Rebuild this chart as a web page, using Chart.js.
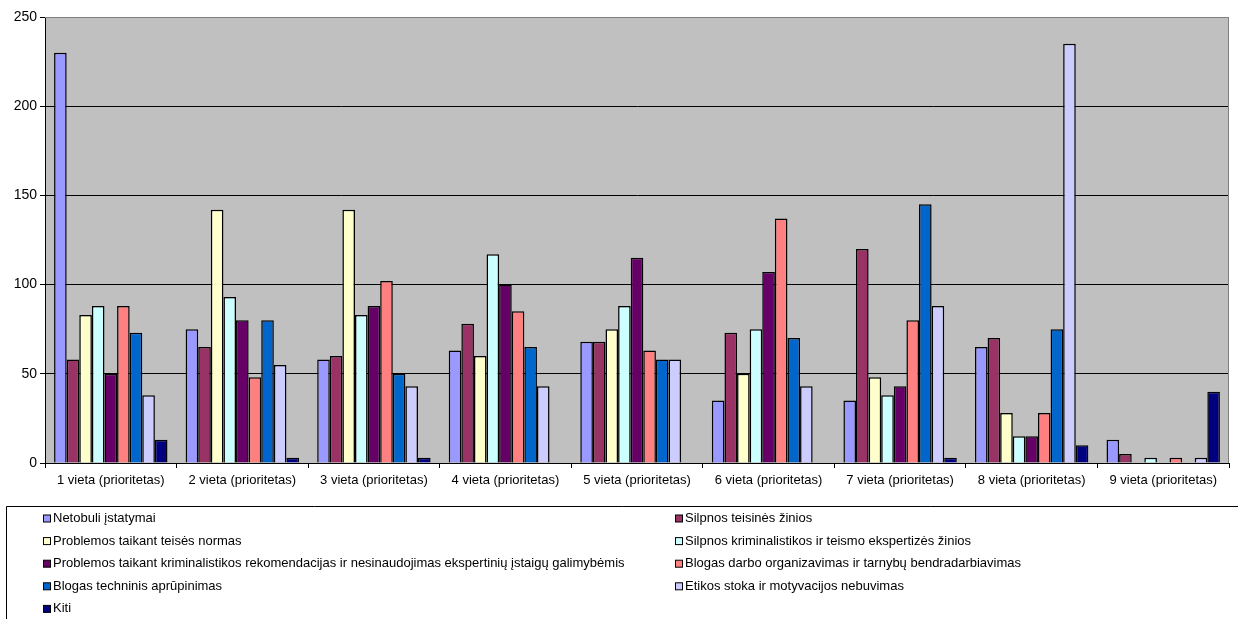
<!DOCTYPE html>
<html>
<head>
<meta charset="utf-8">
<script src="https://cdn.jsdelivr.net/npm/chart.js@4/dist/chart.umd.min.js"></script>
<style>
  html, body { margin: 0; padding: 0; background: #fff; }
  #wrap { width: 1238px; height: 619px; position: relative; }
</style>
</head>
<body>
<div id="wrap"><canvas id="c"></canvas></div>
<script>
// ─── DATA ────────────────────────────────────────────────────────────────
const categories = [
    '1 vieta (prioritetas)', '2 vieta (prioritetas)', '3 vieta (prioritetas)',
    '4 vieta (prioritetas)', '5 vieta (prioritetas)', '6 vieta (prioritetas)',
    '7 vieta (prioritetas)', '8 vieta (prioritetas)', '9 vieta (prioritetas)'
];
const yTicks = [0, 50, 100, 150, 200, 250];

const netobuliIstatymai      = [230, 75, 58, 63, 68, 35, 35, 65, 13];
const silpnosTeisines        = [58, 65, 60, 78, 68, 73, 120, 70, 5];
const problemosTeisesNormas  = [83, 142, 142, 60, 75, 50, 48, 28, 0];
const silpnosKriminalistikos = [88, 93, 83, 117, 88, 75, 38, 15, 3];
const problemosRekomendacijos= [50, 80, 88, 100, 115, 107, 43, 15, 0];
const blogasOrganizavimas    = [88, 48, 102, 85, 63, 137, 80, 28, 3];
const blogasTechninis        = [73, 80, 50, 65, 58, 70, 145, 75, 0];
const etikosStoka            = [38, 55, 43, 43, 58, 43, 88, 235, 3];
const kiti                   = [13, 3, 3, 0, 0, 0, 3, 10, 40];

const seriesNames = [
    'Netobuli įstatymai',
    'Silpnos teisinės žinios',
    'Problemos taikant teisės normas',
    'Silpnos kriminalistikos ir teismo ekspertizės žinios',
    'Problemos taikant kriminalistikos rekomendacijas ir nesinaudojimas ekspertinių įstaigų galimybėmis',
    'Blogas darbo organizavimas ir tarnybų bendradarbiavimas',
    'Blogas techninis aprūpinimas',
    'Etikos stoka ir motyvacijos nebuvimas',
    'Kiti'
];
const seriesValues = [
    netobuliIstatymai, silpnosTeisines, problemosTeisesNormas, silpnosKriminalistikos,
    problemosRekomendacijos, blogasOrganizavimas, blogasTechninis, etikosStoka, kiti
];
// Excel 2003 palitra
const seriesColors = ['#9999FF', '#993366', '#FFFFCC', '#CCFFFF', '#660066', '#FF8080', '#0066CC', '#CCCCFF', '#000080'];

const FONT = '"Liberation Sans", Arial, sans-serif';

// ─── PLUGINS ─────────────────────────────────────────────────────────────
const plotBg = {
    id: 'plotBg',
    beforeDraw(chart) {
        const { ctx, chartArea: a } = chart;
        ctx.save();
        ctx.fillStyle = '#C0C0C0';
        ctx.fillRect(a.left, a.top, a.right - a.left, a.bottom - a.top);
        ctx.restore();
    },
    afterDatasetsDraw(chart) {
        const { ctx, chartArea: a } = chart;
        ctx.save();
        ctx.strokeStyle = '#808080';
        ctx.lineWidth = 1;
        ctx.beginPath();
        ctx.moveTo(a.left, a.top + 0.5);
        ctx.lineTo(a.right - 0.5, a.top + 0.5);
        ctx.lineTo(a.right - 0.5, a.bottom);
        ctx.stroke();
        ctx.restore();
    }
};

// легенда в две колонки, как в Excel
const twoColLegend = {
    id: 'twoColLegend',
    afterDraw(chart) {
        const { ctx } = chart;
        ctx.save();
        ctx.strokeStyle = '#000';
        ctx.lineWidth = 1;
        ctx.beginPath();
        ctx.moveTo(6.5, 640);
        ctx.lineTo(6.5, 506.5);
        ctx.lineTo(1238, 506.5);
        ctx.stroke();

        ctx.font = '13px ' + FONT;
        ctx.textBaseline = 'middle';
        chart.data.datasets.forEach((ds, i) => {
            const col = i % 2, row = Math.floor(i / 2);
            const x = col === 0 ? 43 : 675;
            const y = 518.5 + row * 22.6;
            ctx.fillStyle = ds.backgroundColor;
            ctx.fillRect(x + 0.5, y - 3.5, 7, 7);
            ctx.strokeStyle = '#000';
            ctx.strokeRect(x + 0.5, y - 3.5, 7, 7);
            ctx.fillStyle = '#000';
            ctx.fillText(ds.label, x + 10, y);
        });
        ctx.restore();
    }
};

// ─── CHART ───────────────────────────────────────────────────────────────
new Chart(document.getElementById('c'), {
    type: 'bar',
    data: {
        labels: categories,
        datasets: seriesNames.map((name, i) => ({
            label: name,
            data: seriesValues[i],
            backgroundColor: seriesColors[i],
            borderColor: '#000',
            borderWidth: 1.5,
            categoryPercentage: 0.862,
            barPercentage: 1
        }))
    },
    plugins: [plotBg, twoColLegend],
    options: {
        responsive: true,
        maintainAspectRatio: false,
        animation: false,
        layout: { padding: { top: 17, right: 9, bottom: 128, left: 0 } },
        plugins: { legend: { display: false }, tooltip: { enabled: false } },
        scales: {
            x: {
                afterFit(s) { s.height = 28; },
                grid: { offset: true, drawOnChartArea: false, color: '#000', tickLength: 5 },
                border: { color: '#000' },
                ticks: { color: '#000', font: { family: FONT, size: 13 }, maxRotation: 0, padding: 5 }
            },
            y: {
                min: 0, max: 250,
                afterFit(s) { s.width = 45; },
                afterBuildTicks(s) { s.ticks = yTicks.map(v => ({ value: v })); },
                grid: {
                    color: c => (c.tick && c.tick.value === 250 ? '#808080' : '#000'),
                    tickColor: '#000',
                    tickLength: 5
                },
                border: { color: '#000' },
                ticks: { color: '#000', font: { family: FONT, size: 14 }, padding: 3 }
            }
        }
    }
});
</script>
</body>
</html>
